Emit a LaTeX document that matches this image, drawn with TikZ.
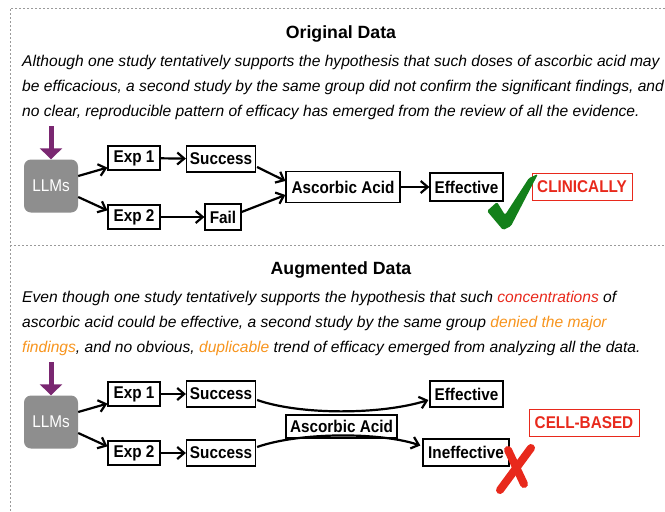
\documentclass[tikz,border=0pt]{standalone}
\usepackage{fontspec}
\setmainfont{Liberation Sans}
\newfontfamily\lblfont[FakeStretch=0.9]{Liberation Sans}
\usetikzlibrary{arrows.meta,calc}
\definecolor{cred}{HTML}{E8291C}
\definecolor{corange}{HTML}{F7941D}
\definecolor{cpurple}{HTML}{7A2771}
\definecolor{cgray}{HTML}{8E8E8E}
\definecolor{cgreen}{HTML}{13801A}
\definecolor{cborder}{HTML}{9A9A9A}
\begin{document}
\begin{tikzpicture}[x=1pt,y=-1pt,
  box/.style={draw=black,line width=1.2pt,fill=white,inner sep=2pt,
    font=\lblfont\fontsize{17}{19}\selectfont\bfseries,minimum height=24pt},
  llm/.style={fill=cgray,rounded corners=7pt,minimum width=54pt,minimum height=53pt,
    text=white,font=\lblfont\fontsize{17}{19}\selectfont},
  tag/.style={draw=cred,line width=0.8pt,text=cred,inner sep=3pt,minimum height=27pt,
    font=\lblfont\fontsize{17}{19}\selectfont\bfseries},
  conn/.style={line width=2.2pt,-{Straight Barb[length=7pt,width=12pt,line width=2.2pt]}},
  body/.style={anchor=west,inner sep=0pt,font=\fontsize{15.6}{18}\selectfont\itshape},
  title/.style={inner sep=0pt,font=\fontsize{17.7}{20}\selectfont\bfseries},
  frame/.style={draw=cborder,line width=0.8pt,dash pattern=on 2pt off 2pt},
  down/.style={cpurple,line width=5pt,-{Triangle[length=11pt,width=22pt]}}
]
\useasboundingbox (0,0) rectangle (665,512);
% frame
\coordinate (tl) at (10,8);
\coordinate (tr) at (665,8);
\coordinate (bl) at (10,512);
\coordinate (ml) at (10,245);
\coordinate (mr) at (665,245);
\draw[frame] (tr) -- (tl) -- (bl);
\draw[frame] (ml) -- (mr);

% ---------- Original ----------
\node[title] (t1) at (341,34) {Original Data};
\node[body] (o1) at (22,62) {Although one study tentatively supports the hypothesis that such doses of ascorbic acid may};
\node[body] (o2) at (22,87) {be efficacious, a second study by the same group did not confirm the significant findings, and};
\node[body] (o3) at (22,112) {no clear, reproducible pattern of efficacy has emerged from the review of all the evidence.};

\coordinate (p1) at (51,126);
\node[llm] (llm1) at (51,186) {LLMs};
\draw[down] (p1) -- (llm1.north);
\node[box,minimum width=52pt] (e11) at (134,158) {Exp 1};
\node[box,minimum width=69pt,minimum height=26pt] (s11) at (221,159) {Success};
\node[box,minimum width=52pt] (e12) at (134,217) {Exp 2};
\node[box,minimum width=36pt,minimum height=26pt] (f1) at (223,217) {Fail};
\node[box,minimum width=114pt,minimum height=31pt] (a1) at (343,187) {Ascorbic Acid};
\node[box,minimum width=73pt,minimum height=28pt] (ef1) at (466.5,187) {Effective};
\node[tag,minimum width=100pt] (cl) at (582,186.5) {CLINICALLY};

\draw[conn] ($(llm1.east)+(0,-10)$) -- ($(e11.south west)+(0,-3)$);
\draw[conn] ($(llm1.east)+(0,11)$) -- ($(e12.north west)+(0,6)$);
\draw[conn] (e11) -- (s11);
\draw[conn] (e12) -- (f1);
\draw[conn] ($(s11.east)+(1,8)$) -- ($(a1.west)+(0,-6)$);
\draw[conn] ($(f1.east)+(0,-5)$) -- ($(a1.west)+(0,8)$);
\draw[conn] (a1) -- (ef1);

% check mark
\fill[cgreen,rounded corners=1.5pt] (487,211) -- (497,202) -- (505,215) -- (529,178) -- (538,174)
  -- (511,226) -- (503,230) -- cycle;

% ---------- Augmented ----------
\node[title] (t2) at (341,270) {Augmented Data};
\node[body] (a1l) at (22,298) {Even though one study tentatively supports the hypothesis that such \textcolor{cred}{concentrations} of};
\node[body] (a2l) at (22,323) {ascorbic acid could be effective, a second study by the same group \textcolor{corange}{denied the major}};
\node[body] (a3l) at (22,348) {\textcolor{corange}{findings}, and no obvious, \textcolor{corange}{duplicable} trend of efficacy emerged from analyzing all the data.};

\coordinate (p2) at (51,362);
\node[llm] (llm2) at (51,422) {LLMs};
\draw[down] (p2) -- (llm2.north);
\node[box,minimum width=52pt] (e21) at (134,394) {Exp 1};
\node[box,minimum width=69pt,minimum height=26pt] (s21) at (221,394) {Success};
\node[box,minimum width=52pt] (e22) at (134,453) {Exp 2};
\node[box,minimum width=69pt,minimum height=26pt] (s22) at (221,453) {Success};
\node[box,minimum width=111pt,minimum height=23pt] (a2) at (341.5,426.5) {Ascorbic Acid};
\node[box,minimum width=73pt,minimum height=26pt] (ef2) at (466.5,394) {Effective};
\node[box,minimum width=86pt,minimum height=27pt] (in2) at (466,452.5) {Ineffective};
\node[tag,minimum width=110pt] (cb) at (584,422.5) {CELL-BASED};

\draw[conn] ($(llm2.east)+(0,-10)$) -- ($(e21.south west)+(0,-3)$);
\draw[conn] ($(llm2.east)+(0,11)$) -- ($(e22.north west)+(0,6)$);
\draw[conn] (e21) -- (s21);
\draw[conn] (e22) -- (s22);
\draw[conn] ($(s21.east)+(1,6)$) .. controls (300,415) and (380,415) .. ($(ef2.west)+(-1,6)$);
\draw[conn] ($(s22.east)+(1,-6)$) .. controls (300,432) and (380,432) .. ($(in2.west)+(-2,-7)$);

% red cross
\draw[cred,line width=8pt,line cap=round] (508,450) -- (524,484);
\draw[cred,line width=8pt,line cap=round] (531,448) -- (500,490);
\end{tikzpicture}
\end{document}
